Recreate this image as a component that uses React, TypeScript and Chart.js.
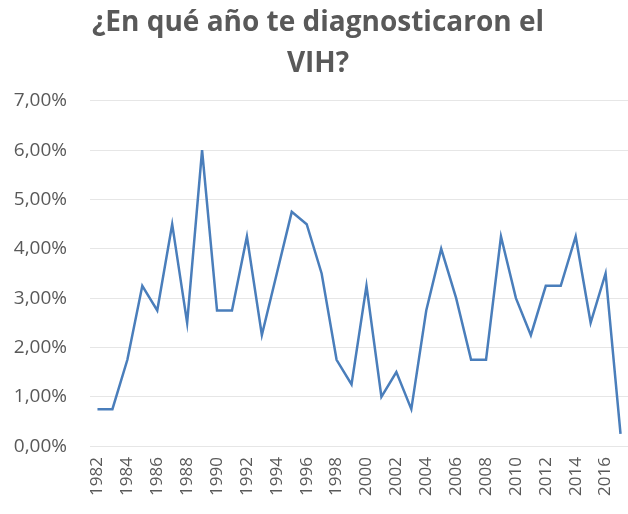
import React, { useEffect, useRef } from "react";
import { Chart, registerables } from "chart.js";

Chart.register(...registerables);

const years: string[] = [
  "1982", "1983", "1984", "1985", "1986", "1987", "1988", "1989", "1990", "1991",
  "1992", "1993", "1994", "1995", "1996", "1997", "1998", "1999", "2000", "2001",
  "2002", "2003", "2004", "2005", "2006", "2007", "2008", "2009", "2010", "2011",
  "2012", "2013", "2014", "2015", "2016", "2017",
];

const percentages: number[] = [
  0.75, 0.75, 1.75, 3.25, 2.75, 4.5, 2.5, 6.0, 2.75, 2.75,
  4.25, 2.25, 3.5, 4.75, 4.5, 3.5, 1.75, 1.25, 3.25, 1.0,
  1.5, 0.75, 2.75, 4.0, 3.0, 1.75, 1.75, 4.25, 3.0, 2.25,
  3.25, 3.25, 4.25, 2.5, 3.5, 0.25,
];

const titleLines: string[] = ["¿En qué año te diagnosticaron el", "VIH?"];

export default function App() {
  const ref = useRef<HTMLCanvasElement | null>(null);

  useEffect(() => {
    document.body.style.margin = "0";
    if (!ref.current) return;
    const chart = new Chart(ref.current, {
      type: "line",
      data: {
        labels: years,
        datasets: [
          {
            data: percentages,
            borderColor: "#4a7ebb",
            borderWidth: 2.5,
            pointRadius: 0,
            tension: 0,
            fill: false,
          },
        ],
      },
      options: {
        responsive: false,
        animation: false,
        layout: { padding: { left: 8, right: 0, top: 1, bottom: 15 } },
        plugins: {
          legend: { display: false },
          tooltip: { enabled: false },
          title: {
            display: true,
            text: titleLines,
            color: "#595959",
            font: { family: "'Open Sans', sans-serif", size: 28, weight: "bold", lineHeight: 1.48 },
            padding: { top: 1, bottom: 16 },
          },
        },
        scales: {
          x: {
            offset: true,
            grid: { display: false },
            border: { display: false },
            afterFit: (axis: any) => {
              axis.paddingLeft = 0;
              axis.paddingRight = 0;
            },
            ticks: {
              autoSkip: false,
              maxRotation: 90,
              minRotation: 90,
              color: "#595959",
              font: { family: "'Open Sans', sans-serif", size: 17 },
              callback: (_v: any, i: number) => (i % 2 === 0 ? years[i] : ""),
            },
          },
          y: {
            min: 0,
            max: 7,
            border: { display: false },
            grid: { color: "#e6e6e6", lineWidth: 1, drawTicks: false },
            afterFit: (axis: any) => {
              axis.width = 82;
            },
            ticks: {
              stepSize: 1,
              padding: 23,
              color: "#595959",
              font: { family: "'Open Sans', sans-serif", size: 19 },
              callback: (v: any) => Number(v).toFixed(2).replace(".", ",") + "%",
            },
          },
        },
      },
    });
    return () => chart.destroy();
  }, []);

  return (
    <div style={{ width: 628, height: 514 }}>
      <canvas ref={ref} width={628} height={514} style={{ display: "block" }} />
    </div>
  );
}
